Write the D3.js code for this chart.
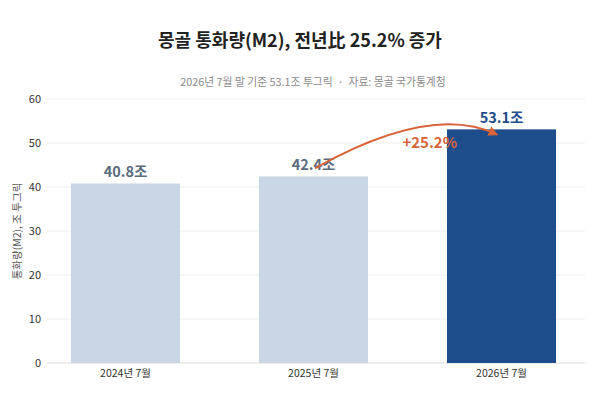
<!DOCTYPE html>
<html><head><meta charset="utf-8">
<script src="https://cdn.jsdelivr.net/npm/d3@7"></script>
<style>
body{margin:0;background:#fff;}
svg{display:block;font-family:"Noto Sans CJK KR","Noto Sans",sans-serif;}
</style></head>
<body>
<svg id="c" width="600" height="402"></svg>
<script>
const categories = ["2024년 7월","2025년 7월","2026년 7월"];
const values = [40.8, 42.4, 53.1];
const valueLabels = ["40.8조","42.4조","53.1조"];
const yTicks = [0,10,20,30,40,50,60];
const title = "몽골 통화량(M2), 전년比 25.2% 증가";
const subtitle = "2026년 7월 말 기준 53.1조 투그릭  ·  자료: 몽골 국가통계청";
const yLabel = "통화량(M2), 조 투그릭";
const changeLabel = "+25.2%";

const svg = d3.select("#c");
const x = d3.scaleBand().domain(categories).range([31.5,595.5]).paddingInner(0.42).paddingOuter(0.21);
const y = d3.scaleLinear().domain([0,60]).range([363,99]);
const gridX0 = 47, gridX1 = 585;

svg.append("text").attr("x",300).attr("y",47).attr("text-anchor","middle")
  .attr("font-size",18).attr("font-weight",700).attr("fill","#222").text(title);
svg.append("text").attr("x",313).attr("y",86).attr("text-anchor","middle")
  .attr("font-size",10.8).attr("fill","#8a8a8a").attr("xml:space","preserve").text(subtitle);

// grid
svg.append("g").selectAll("line").data(yTicks).join("line")
  .attr("x1",gridX0).attr("x2",gridX1).attr("y1",d=>y(d)).attr("y2",d=>y(d))
  .attr("stroke",d=>d===0?"#dddddd":"#efefef").attr("stroke-width",1);

// y axis labels
const ya = svg.append("g").attr("transform",`translate(${gridX0},0)`)
  .call(d3.axisLeft(y).tickValues(yTicks).tickSize(0).tickPadding(6));
ya.select(".domain").remove();
ya.selectAll("text").attr("font-size",11).attr("fill","#333").attr("font-family","'Noto Sans CJK KR','Noto Sans',sans-serif");

svg.append("text").attr("transform","translate(21,231) rotate(-90)").attr("text-anchor","middle")
  .attr("font-size",10.5).attr("fill","#555").text(yLabel);

// bars
svg.append("g").selectAll("rect").data(values).join("rect")
  .attr("x",(d,i)=>x(categories[i])).attr("width",x.bandwidth())
  .attr("y",d=>y(d)).attr("height",d=>y(0)-y(d))
  .attr("fill",(d,i)=>i===2?"#1e4d8b":"#c9d6e5");

// x axis
const xa = svg.append("g").attr("transform",`translate(0,${y(0)})`)
  .call(d3.axisBottom(x).tickSize(0).tickPadding(7));
xa.select(".domain").remove();
xa.selectAll("text").attr("font-size",10.5).attr("fill","#333").attr("font-family","'Noto Sans CJK KR','Noto Sans',sans-serif");

// value labels
svg.append("g").selectAll("text").data(values).join("text")
  .attr("x",(d,i)=>x(categories[i])+x.bandwidth()/2).attr("y",d=>y(d)-6)
  .attr("text-anchor","middle").attr("font-size",14.5).attr("font-weight",700)
  .attr("fill",(d,i)=>i===2?"#1e4d8b":"#5b6b80").text((d,i)=>valueLabels[i]);

// arrow
const defs = svg.append("defs");
defs.append("marker").attr("id","ah").attr("viewBox","0 0 10 10").attr("refX",8).attr("refY",5)
  .attr("markerWidth",5).attr("markerHeight",5).attr("orient","auto")
  .append("path").attr("d","M0,0 L10,5 L0,10 z").attr("fill","#d9643a");
const sx = x(categories[1])+x.bandwidth()/2+1.5, sy = y(values[1])-8;
const ex = x(categories[2])+x.bandwidth()/2-5, ey = y(values[2])+5;
svg.append("path")
  .attr("d",`M${sx},${sy} Q${(sx+ex)/2+25},${y(values[2])-26} ${ex},${ey}`)
  .attr("fill","none").attr("stroke","#d9643a").attr("stroke-width",2).attr("marker-end","url(#ah)");
svg.append("text").attr("x",(sx+ex)/2+24).attr("y",y(values[2])+19).attr("text-anchor","middle")
  .attr("font-size",15).attr("font-weight",700).attr("fill","#d9643a").text(changeLabel);
</script>
</body></html>
